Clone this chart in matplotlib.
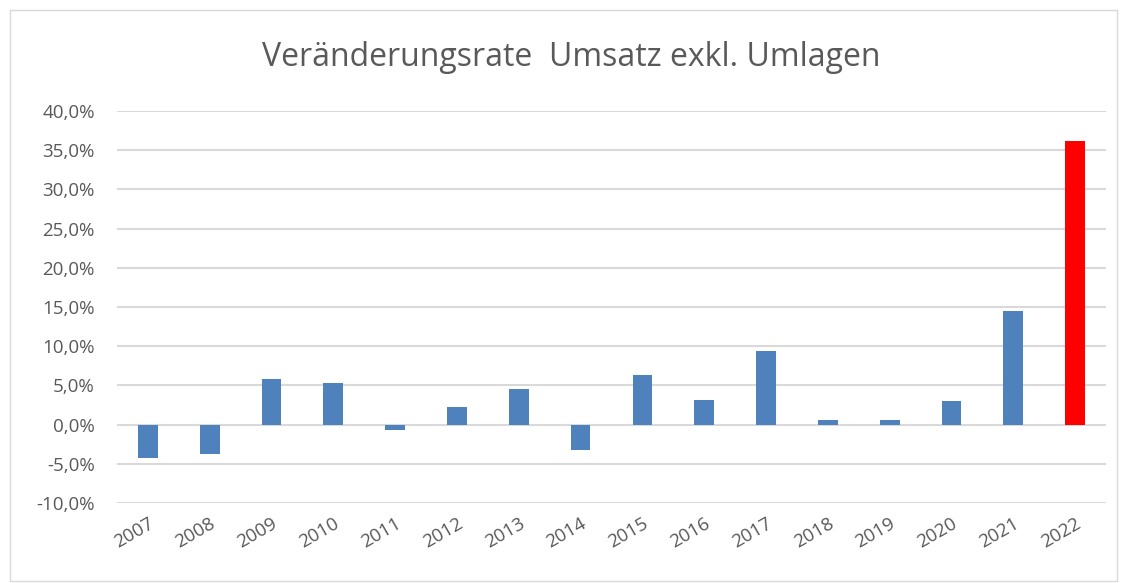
import matplotlib
matplotlib.use("Agg")
import matplotlib.pyplot as plt
from matplotlib.patches import Rectangle
from matplotlib.ticker import FuncFormatter

years = [str(y) for y in range(2007, 2023)]
values = [-4.2, -3.7, 5.8, 5.3, -0.7, 2.3, 4.5, -3.2, 6.3, 3.2, 9.4, 0.6, 0.6, 3.0, 14.5, 36.2]
colors = ["#4f81bd"] * 15 + ["#ff0000"]
yticks = [-10, -5, 0, 5, 10, 15, 20, 25, 30, 35, 40]
title = "Veränderungsrate  Umsatz exkl. Umlagen"

plt.rcParams['font.family'] = ['Open Sans', 'DejaVu Sans']

fig = plt.figure(figsize=(11.21, 5.83), dpi=100)
ax = fig.add_axes([117/1121, 1 - 503/583, (1106 - 117)/1121, (503 - 111)/583])

x = list(range(len(years)))
ax.bar(x, values, width=0.32, color=colors, zorder=3)
ax.set_xlim(-0.5, len(years) - 0.5)
ax.set_ylim(-10, 40)
ax.set_yticks(yticks)
ax.yaxis.set_major_formatter(FuncFormatter(lambda v, p: f"{v:.1f}%".replace(".", ",")))
ax.set_xticks(x)
ax.set_xticklabels(years, rotation=30, ha="right", rotation_mode="anchor")
ax.grid(axis="y", color="#d9d9d9", linewidth=1.5, zorder=0)
for s in ax.spines.values():
    s.set_visible(False)
ax.tick_params(axis="both", length=0, colors="#595959", labelsize=13.5)
ax.tick_params(axis="y", pad=16)
ax.tick_params(axis="x", pad=8)

fig.text(571/1121, 1 - 58/583, title, ha="center", va="center", fontsize=23, color="#595959")

fig.patches.append(Rectangle((10/1121, 2/583), (1117 - 10)/1121, (573 - 2)/583,
                             transform=fig.transFigure, fill=False, edgecolor="#d9d9d9", linewidth=1))

fig.savefig("out.png", dpi=100)
